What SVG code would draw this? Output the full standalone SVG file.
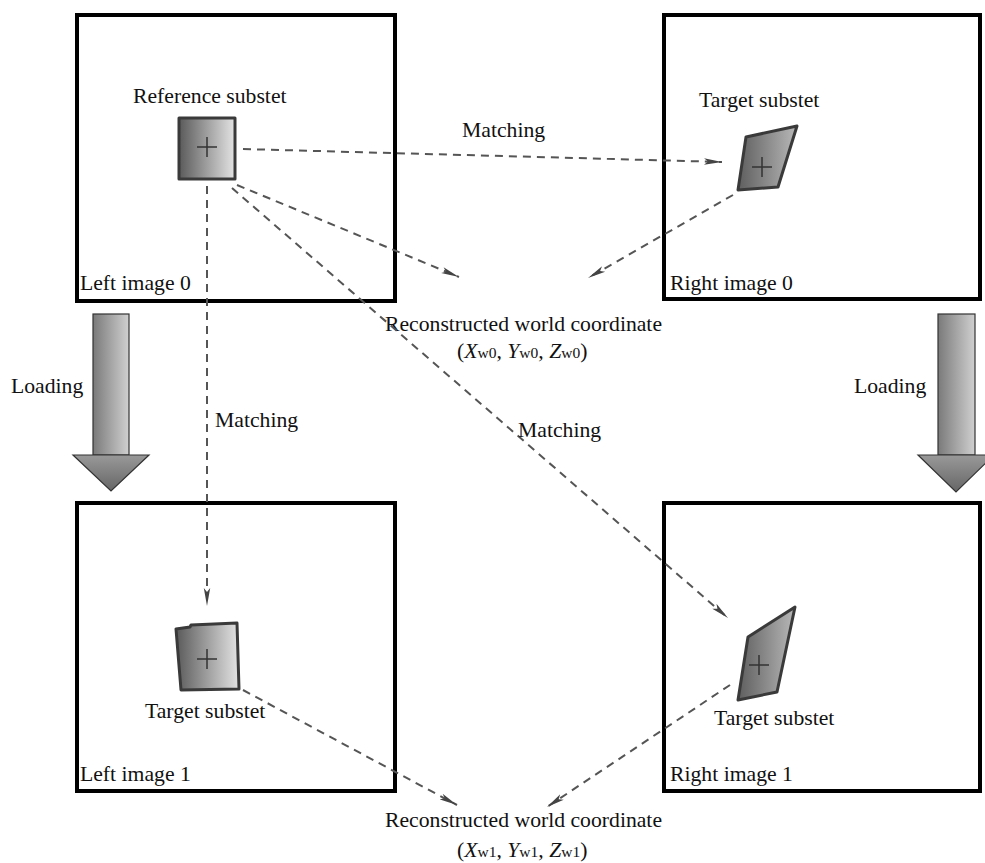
<svg xmlns="http://www.w3.org/2000/svg" width="985" height="863" viewBox="0 0 985 863">
  <style>
    .frame { fill: none; stroke: #000; stroke-width: 4; }
    .lbl { font-family: "Liberation Serif", "Times New Roman", serif; font-size: 21.7px; fill: #111; }
    .sub { font-size: 15.5px; }
    .it { font-style: italic; }
    .dash { fill: none; stroke: #555; stroke-width: 2; stroke-dasharray: 8 6; marker-end: url(#head); }
    .patch { stroke: #3a3a3a; stroke-width: 3; stroke-linejoin: round; }
    .cross { stroke: #333; stroke-width: 1.5; }
    .load { stroke: #333; stroke-width: 1.2; }
  </style>
  <defs>
    <linearGradient id="gRef" x1="0" y1="0" x2="1" y2="0">
      <stop offset="0" stop-color="#5a5a5a"/>
      <stop offset="1" stop-color="#e4e4e4"/>
    </linearGradient>
    <linearGradient id="gTgt" x1="0" y1="0" x2="1" y2="0">
      <stop offset="0" stop-color="#5e5e5e"/>
      <stop offset="1" stop-color="#b8b8b8"/>
    </linearGradient>
    <linearGradient id="gLoad" x1="0" y1="0" x2="1" y2="0">
      <stop offset="0" stop-color="#7a7a7a"/>
      <stop offset="1" stop-color="#d0d0d0"/>
    </linearGradient>
    <linearGradient id="gLoadHead" x1="0" y1="0" x2="0" y2="1">
      <stop offset="0" stop-color="#999"/>
      <stop offset="1" stop-color="#666"/>
    </linearGradient>
    <marker id="head" viewBox="0 0 18 8" refX="18" refY="4" markerWidth="18" markerHeight="8" markerUnits="userSpaceOnUse" orient="auto">
      <path d="M0,0.8 L18,4 L0,7.2 L4,4 Z" fill="#444"/>
    </marker>
  </defs>

  <!-- image frames -->
  <g id="left-image-0">
    <rect class="frame" x="77" y="15" width="318" height="286"/>
    <text class="lbl" x="80" y="290">Left image 0</text>
  </g>
  <g id="right-image-0">
    <rect class="frame" x="664" y="15" width="316" height="284"/>
    <text class="lbl" x="670" y="290">Right image 0</text>
  </g>
  <g id="left-image-1">
    <rect class="frame" x="77" y="503" width="318" height="288"/>
    <text class="lbl" x="80" y="781">Left image 1</text>
  </g>
  <g id="right-image-1">
    <rect class="frame" x="664" y="503" width="316" height="288"/>
    <text class="lbl" x="670" y="781">Right image 1</text>
  </g>

  <!-- subsets -->
  <g id="reference-subset">
    <text class="lbl" x="133" y="103">Reference substet</text>
    <rect class="patch" x="179" y="118" width="56" height="61" fill="url(#gRef)"/>
    <path class="cross" d="M197,147 H217 M207,137 V157"/>
  </g>
  <g id="target-right-0">
    <text class="lbl" x="699" y="107">Target substet</text>
    <path class="patch" d="M746,137 L797,126 L778,187 L738,190 Z" fill="url(#gTgt)"/>
    <path class="cross" d="M752,167 H772 M762,157 V177"/>
  </g>
  <g id="target-left-1">
    <path class="patch" d="M176,629 L190,627 L191,625 L237,623 L239,689 L181,690 Z" fill="url(#gRef)"/>
    <path class="cross" d="M197,659 H217 M207,649 V669"/>
    <text class="lbl" x="145" y="718">Target substet</text>
  </g>
  <g id="target-right-1">
    <path class="patch" d="M748,637 L795,607 L777,692 L738,700 Z" fill="url(#gTgt)"/>
    <path class="cross" d="M749,665 H769 M759,655 V675"/>
    <text class="lbl" x="714" y="725">Target substet</text>
  </g>

  <!-- world coordinates -->
  <g id="world-0">
    <text class="lbl" x="385" y="331">Reconstructed world coordinate</text>
    <text class="lbl" x="457" y="358">(<tspan class="it">X</tspan><tspan class="sub">w0</tspan>, <tspan class="it">Y</tspan><tspan class="sub">w0</tspan>, <tspan class="it">Z</tspan><tspan class="sub">w0</tspan>)</text>
  </g>
  <g id="world-1">
    <text class="lbl" x="385" y="827">Reconstructed world coordinate</text>
    <text class="lbl" x="457" y="857">(<tspan class="it">X</tspan><tspan class="sub">w1</tspan>, <tspan class="it">Y</tspan><tspan class="sub">w1</tspan>, <tspan class="it">Z</tspan><tspan class="sub">w1</tspan>)</text>
  </g>

  <!-- loading arrows -->
  <g id="loading-left">
    <rect class="load" x="93" y="314" width="36" height="141" fill="url(#gLoad)"/>
    <path class="load" d="M73,455 H149 L111,491 Z" fill="url(#gLoadHead)"/>
    <text class="lbl" x="11" y="393">Loading</text>
  </g>
  <g id="loading-right">
    <rect class="load" x="938" y="314" width="37" height="141" fill="url(#gLoad)"/>
    <path class="load" d="M918,455 H994 L956,492 Z" fill="url(#gLoadHead)"/>
    <text class="lbl" x="854" y="393">Loading</text>
  </g>

  <!-- matching / reconstruction connectors -->
  <g id="connectors">
    <path class="dash" d="M243,149 L722,162"/>
    <path class="dash" d="M237,185 L459,277"/>
    <path class="dash" d="M733,195 L588,278"/>
    <path class="dash" d="M207,186 L207,606"/>
    <path class="dash" d="M232,188 L728,618"/>
    <path class="dash" d="M243,690 L457,805"/>
    <path class="dash" d="M730,685 L547,807"/>
    <text class="lbl" x="462" y="137">Matching</text>
    <text class="lbl" x="215" y="427">Matching</text>
    <text class="lbl" x="518" y="437">Matching</text>
  </g>
</svg>
